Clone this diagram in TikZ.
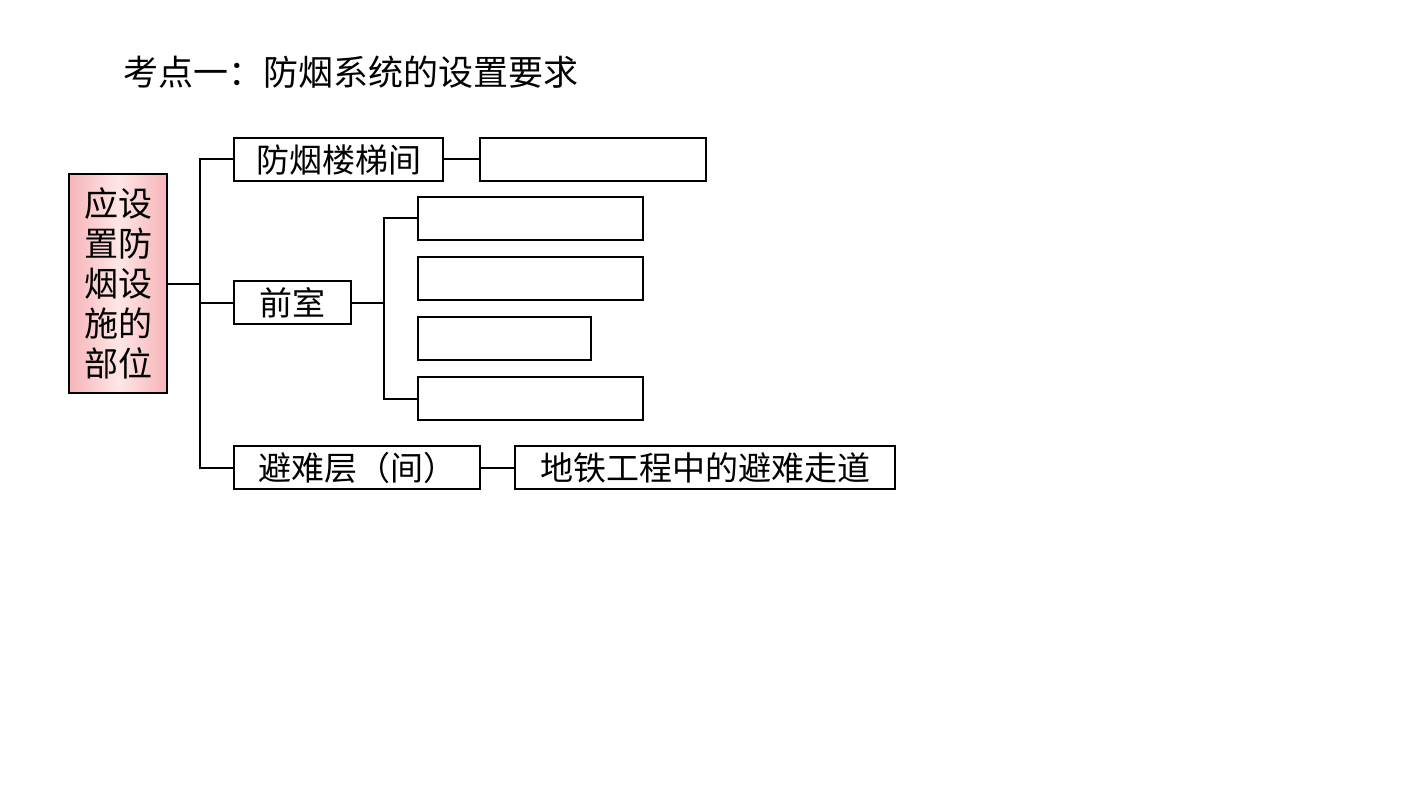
\documentclass[tikz,border=0pt]{standalone}
\usepackage{fontspec}
\setmainfont{Noto Sans CJK SC}
\definecolor{pinkedge}{RGB}{246,180,184}
\definecolor{pinkmid}{RGB}{255,230,230}
\begin{document}
\begin{tikzpicture}[x=0.5pt,y=-0.5pt,
  box/.style={draw=black,line width=1pt,fill=white,anchor=north west,inner sep=0pt,font=\fontsize{16.5}{20}\selectfont},
  conn/.style={draw=black,line width=1pt}]
\path[use as bounding box,fill=white] (0,0) rectangle (1407,791);
\node[anchor=west,inner sep=0pt,font=\fontsize{17.5}{20}\selectfont] (title) at (123,72) {考点一：防烟系统的设置要求};
\node[box,minimum width=49pt,minimum height=109.5pt,left color=pinkedge,right color=pinkedge,middle color=pinkmid,align=center,text width=40pt,font=\fontsize{17}{20}\selectfont] (L) at (68,173) {应设\\置防\\烟设\\施的\\部位};
\node[box,minimum width=104.5pt,minimum height=21.5pt] (A) at (233,137) {防烟楼梯间};
\node[box,minimum width=113pt,minimum height=21.5pt] (A1) at (479,137) {};
\node[box,minimum width=58.5pt,minimum height=21.5pt] (B) at (233,280) {前室};
\node[box,minimum width=112.5pt,minimum height=21.5pt] (B1) at (417,196) {};
\node[box,minimum width=112.5pt,minimum height=21.5pt] (B2) at (417,256) {};
\node[box,minimum width=86.5pt,minimum height=21.5pt] (B3) at (417,316) {};
\node[box,minimum width=112.5pt,minimum height=21.5pt] (B4) at (417,376) {};
\node[box,minimum width=123pt,minimum height=21.5pt] (C) at (233,445) {避难层（间）};
\node[box,minimum width=190pt,minimum height=21.5pt] (C1) at (514,445) {地铁工程中的避难走道};
\coordinate (t1) at (200,0);
\coordinate (t2) at (384,0);
\draw[conn] (L.east) -- (L.east -| t1);
\draw[conn] (A.west) -- (A.west -| t1) -- (C.west -| t1) -- (C.west);
\draw[conn] (B.west) -- (B.west -| t1);
\draw[conn] (A.east) -- (A1.west);
\draw[conn] (C.east) -- (C1.west);
\draw[conn] (B.east) -- (B.east -| t2);
\draw[conn] (B1.west) -- (B1.west -| t2) -- (B4.west -| t2) -- (B4.west);
\end{tikzpicture}
\end{document}
